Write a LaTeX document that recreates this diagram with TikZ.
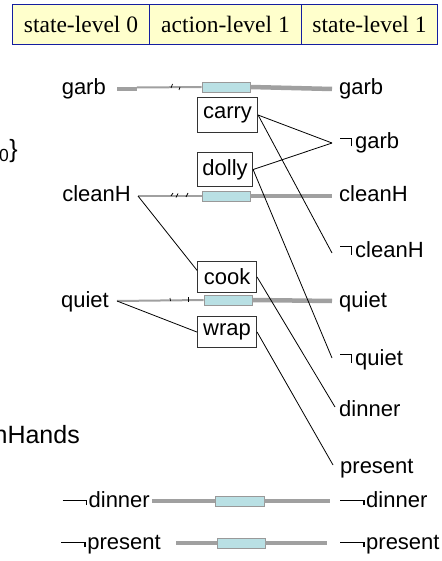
\documentclass[tikz,border=0pt]{standalone}
\usepackage{fontspec}
\setmainfont{Liberation Serif}
\newfontfamily\lab{Liberation Sans}
\usetikzlibrary{calc}
\newcommand\hneg{\rule[9.6pt]{10.5pt}{1.5pt}\rule[2.5pt]{1.5pt}{8.6pt}\hspace{3pt}}
\newcommand\wneg{\rule[6pt]{23pt}{1.5pt}\rule[2pt]{1.5pt}{5.5pt}\hspace{1.5pt}}
\definecolor{hdrfill}{RGB}{255,255,204}
\definecolor{hdrline}{RGB}{20,30,160}
\definecolor{noopfill}{RGB}{185,224,228}
\definecolor{graybar}{RGB}{160,160,160}
\begin{document}
\begin{tikzpicture}[x=1pt,y=-1pt,
  hdr/.style={draw=hdrline, fill=hdrfill, line width=1pt, minimum height=40, inner sep=0pt, anchor=north west, font=\fontsize{23.5}{28}\selectfont},
  lbl/.style={font=\lab\fontsize{22}{26}\selectfont, inner sep=0pt},
  biglbl/.style={font=\lab\fontsize{25}{30}\selectfont, inner sep=0pt},
  act/.style={draw=black!80, line width=1.1pt, fill=white, inner sep=0pt, anchor=north west, font=\lab\fontsize{22}{26}\selectfont},
  noop/.style={draw=black!40, fill=noopfill, line width=0.8pt, minimum width=48, minimum height=10, inner sep=0pt},
  gthick/.style={draw=graybar, line width=4.5pt},
  gthin/.style={draw=graybar, line width=2pt},
  glow/.style={draw=graybar, line width=4pt},
  link/.style={draw=black, line width=0.8pt},
  tick/.style={draw=black, line width=0.7pt}]
\useasboundingbox (0,0) rectangle (441,561);
\fill[white] (0,0) rectangle (441,561);
\clip (0,0) rectangle (441,561);

% header
\node[hdr, minimum width=137] (h1) at (12,4) {state-level 0};
\node[hdr, minimum width=152] (h2) at (149,4) {action-level 1};
\node[hdr, minimum width=136] (h3) at (301,4) {state-level 1};

% clipped left texts
\node[biglbl, anchor=base east] (s0) at (18,158) {s\textsubscript{0}\}};
\node[biglbl, anchor=base east] (hands) at (80,443) {cleanHands};

% garb row
\node[lbl, anchor=base east] (garbL) at (106,95) {garb};
\node[lbl, anchor=base west] (garbR) at (339,95) {garb};
\node[noop] (nG) at (226,87) {};
\coordinate (g0) at (117,89);
\coordinate (g0b) at (137,89);
\coordinate (g0c) at (137,87.5);
\coordinate (g1) at (332,89);
\draw[gthick] (g0) -- (g0b);
\draw[gthin] (g0c) -- (nG.west);
\draw[gthick] (nG.east) -- (g1);
\draw[tick] (171,88) -- (172.5,84);
\draw[tick] (179,90) -- (180,87);

% cleanH row
\node[lbl, anchor=base east] (cleanL) at (131,201) {cleanH};
\node[lbl, anchor=base west] (cleanR) at (339,201) {cleanH};
\node[noop] (nC) at (226,196) {};
\coordinate (c0) at (138,196);
\coordinate (c1) at (332,196);
\draw[gthin] (c0) -- (nC.west);
\draw[gthick] (nC.east) -- (c1);
\draw[tick] (171,196) -- (173,193);
\draw[tick] (176,197.5) -- (178,193.5);
\draw[tick] (186,197) -- (188,193);

% quiet row
\node[lbl, anchor=base east] (quietL) at (109,307) {quiet};
\node[lbl, anchor=base west] (quietR) at (339,307) {quiet};
\node[noop] (nQ) at (228,300) {};
\coordinate (q0) at (117,301);
\coordinate (q1) at (332,301);
\draw[gthin] (q0) -- (nQ.west);
\draw[gthick] (nQ.east) -- (q1);
\draw[tick] (170,298) -- (170.5,301);
\draw[tick] (188,297) -- (188,302);

% action boxes
\node[act, minimum width=60, minimum height=35] (carry) at (197,97) {carry};
\node[act, minimum width=55, minimum height=34] (dolly) at (197,152) {dolly};
\node[act, minimum width=59, minimum height=31] (cook) at (197,261) {cook};
\node[act, minimum width=59, minimum height=31] (wrap) at (197,316) {wrap};

% right-only labels
\node[lbl, anchor=base west] (ngarb) at (340,149) {\hneg garb};
\node[lbl, anchor=base west] (nclean) at (340,257) {\hneg cleanH};
\node[lbl, anchor=base west] (nquiet) at (340,365) {\hneg quiet};
\node[lbl, anchor=base west] (dinR) at (339,416) {dinner};
\node[lbl, anchor=base west] (preR) at (340,473) {present};
\coordinate (ngP) at (332,143);
\coordinate (ncP) at (332,253);
\coordinate (nqP) at (332,358);
\coordinate (dP) at (335,407);
\coordinate (pP) at (333,465);

% connectors
\draw[link] (carry.east) -- (ngP);
\draw[link] (carry.east) -- (ncP);
\draw[link] (dolly.east) -- (ngP);
\draw[link] (dolly.east) -- (nqP);
\draw[link] (c0) -- ($(cook.north west)!0.29!(cook.south west)$);
\draw[link] (q0) -- (wrap.west);
\draw[link] (cook.east) -- (dP);
\draw[link] (wrap.east) -- (pP);

% bottom rows
\node[lbl, anchor=base east] (ndL) at (150,507) {\wneg dinner};
\node[lbl, anchor=base west] (ndR) at (340,507) {\wneg dinner};
\node[noop, minimum width=49] (nD) at (239.5,501) {};
\coordinate (d0) at (152,501);
\coordinate (d1) at (330,501);
\draw[glow] (d0) -- (nD.west);
\draw[glow] (nD.east) -- (d1);

\node[lbl, anchor=base east] (npL) at (161,549) {\wneg present};
\node[lbl, anchor=base west] (npR) at (340,549) {\wneg present};
\node[noop, minimum width=48] (nP) at (241,543) {};
\coordinate (p0) at (176,543);
\coordinate (p1) at (327,543);
\draw[glow] (p0) -- (nP.west);
\draw[glow] (nP.east) -- (p1);
\end{tikzpicture}
\end{document}
